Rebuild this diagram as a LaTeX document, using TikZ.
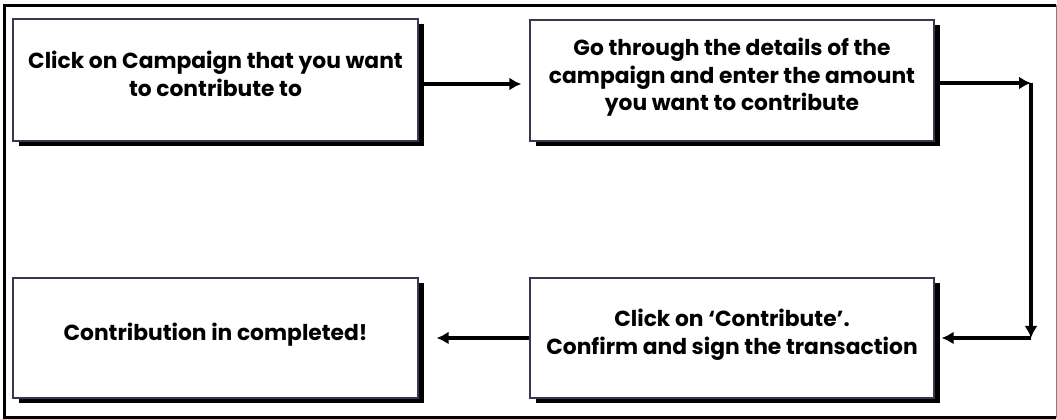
\documentclass[tikz,border=0pt]{standalone}
\usepackage{fontspec}
\newfontfamily\boxfont{Poppins Bold}
\usetikzlibrary{arrows.meta,shadows}
\definecolor{boxline}{HTML}{3C3550}
\tikzset{
  stepbox/.style={draw=boxline, line width=1.3pt, fill=white, minimum width=405pt,
    align=center, font=\boxfont\fontsize{21.8}{27.5}\selectfont, text=black, text depth=12pt,
    drop shadow={shadow xshift=6pt, shadow yshift=-5pt, fill=black, opacity=1}},
  arr/.style={line width=3.3pt, -{Latex[length=12pt,width=13pt]}}
}
\begin{document}
\begin{tikzpicture}[x=1pt,y=-1pt]
\useasboundingbox (0,0) rectangle (1057,419);
\fill[white] (0,0) rectangle (1057,419);
\draw[line width=2.8pt] (4.5,419) -- (4.5,5.3) -- (1056,5.3);
\draw[line width=2.8pt] (4.5,417.5) -- (1056,417.5);
\draw[gray, line width=1pt] (1056,5) -- (1056,418);
\node[stepbox, minimum height=122pt] (b1) at (215.5,80) {Click on Campaign that you want\\to contribute to};
\node[stepbox, minimum width=404pt, minimum height=121pt] (b2) at (732,80.5) {Go through the details of the\\campaign and enter the amount\\you want to contribute};
\node[stepbox, minimum width=404pt, minimum height=120pt] (b3) at (732,338) {Click on ‘Contribute’.\\Confirm and sign the transaction};
\node[stepbox, minimum height=120pt] (b4) at (215.5,338) {Contribution in completed!};
\coordinate (c1) at (1031,83);
\coordinate (c2) at (1031,338);
\draw[arr] (b1.east |- 0,84) -- ([xshift=-8pt]b2.west |- 0,84);
\draw[arr] (b2.east |- c1) -- (c1);
\draw[arr] (c1) -- (c2);
\draw[arr] (c2) -- ([xshift=7pt]b3.east);
\draw[arr] (b3.west) -- ([xshift=18pt]b4.east);
\end{tikzpicture}
\end{document}
